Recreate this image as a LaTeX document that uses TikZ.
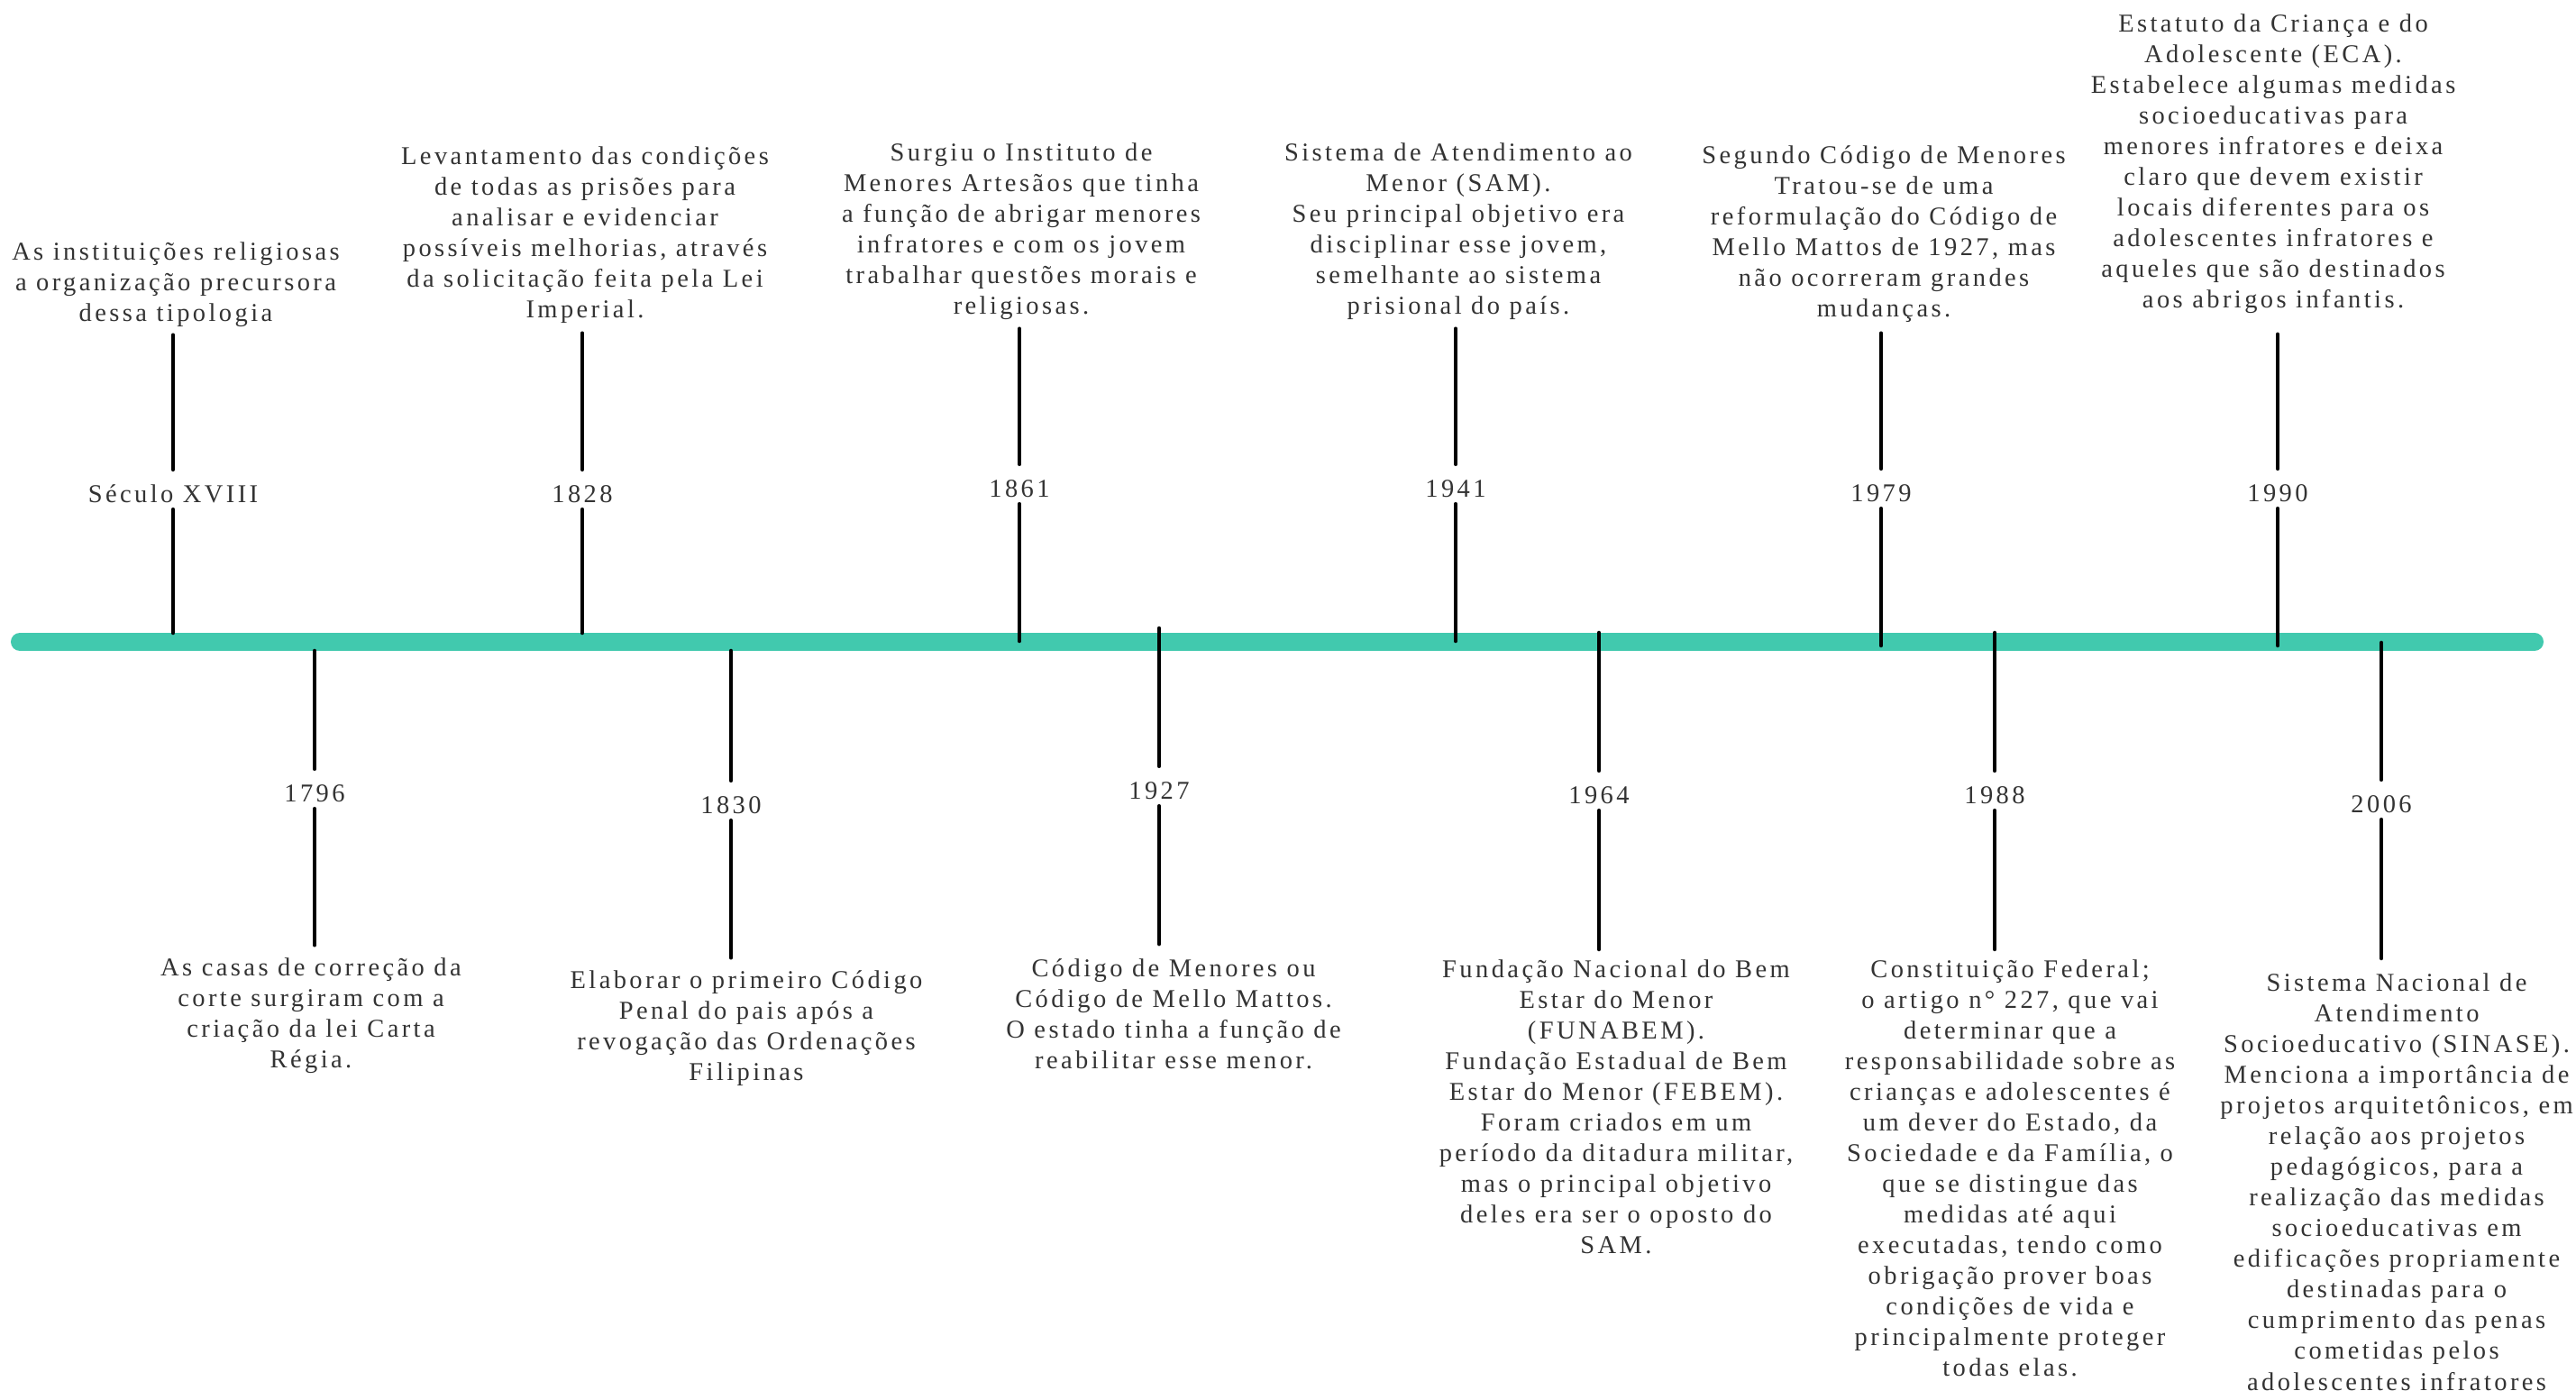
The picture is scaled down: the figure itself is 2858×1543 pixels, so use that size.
\documentclass[tikz,border=0pt]{standalone}
\usepackage{fontspec}
\setmainfont{Liberation Serif}[LetterSpace=12]
\usepackage{tikz}

\definecolor{timeline}{HTML}{41C9AE}
\definecolor{txtgray}{HTML}{333333}

\begin{document}
\begin{tikzpicture}[x=0.01cm, y=-0.01cm,
    desc/.style={align=center, text=txtgray, inner sep=0pt, font=\fontsize{8.1}{9.68}\selectfont},
    year/.style={desc, minimum height=0.43cm, text height=0.285cm, text depth=0pt},
    tick/.style={line width=1.3pt, line cap=round},
    bar/.style={draw=timeline, line width=0.2cm, line cap=round}]
      \useasboundingbox (0,0) rectangle (2858,1543);

      \coordinate (barL) at (22,712);
      \coordinate (barR) at (2812,712);
      \draw[bar] (barL) -- (barR);

      % above the line
      \node[desc] (d-s18) at (195,316) {As instituições religiosas\\a organização precursora\\dessa tipologia};
      \node[year] (y-s18) at (192,543) {Século XVIII};
      \coordinate (b-s18) at (192,702);
      \draw[tick] (b-s18) -- (y-s18.south);
      \draw[tick, shorten >=0.08cm] (y-s18.north) -- (y-s18.north |- d-s18.south);

      \node[desc] (d1828) at (649,261) {Levantamento das condições\\de todas as prisões para\\analisar e evidenciar\\possíveis melhorias, através\\da solicitação feita pela Lei\\Imperial.};
      \node[year] (y1828) at (646,543) {1828};
      \coordinate (b1828) at (646,702);
      \draw[tick] (b1828) -- (y1828.south);
      \draw[tick, shorten >=0.1cm] (y1828.north) -- (y1828.north |- d1828.south);

      \node[desc] (d1861) at (1133,257) {Surgiu o Instituto de\\Menores Artesãos que tinha\\a função de abrigar menores\\infratores e com os jovem\\trabalhar questões morais e\\religiosas.};
      \node[year] (y1861) at (1131,537) {1861};
      \coordinate (b1861) at (1131,711);
      \draw[tick] (b1861) -- (y1861.south);
      \draw[tick, shorten >=0.09cm] (y1861.north) -- (y1861.north |- d1861.south);

      \node[desc] (d1941) at (1618,257) {Sistema de Atendimento ao\\Menor (SAM).\\Seu principal objetivo era\\disciplinar esse jovem,\\semelhante ao sistema\\prisional do país.};
      \node[year] (y1941) at (1615,537) {1941};
      \coordinate (b1941) at (1615,711);
      \draw[tick] (b1941) -- (y1941.south);
      \draw[tick, shorten >=0.09cm] (y1941.north) -- (y1941.north |- d1941.south);

      \node[desc] (d1979) at (2090,260) {Segundo Código de Menores\\Tratou-se de uma\\reformulação do Código de\\Mello Mattos de 1927, mas\\não ocorreram grandes\\mudanças.};
      \node[year] (y1979) at (2087,542) {1979};
      \coordinate (b1979) at (2087,716);
      \draw[tick] (b1979) -- (y1979.south);
      \draw[tick, shorten >=0.11cm] (y1979.north) -- (y1979.north |- d1979.south);

      \node[desc] (d1990) at (2522,182) {Estatuto da Criança e do\\Adolescente (ECA).\\Estabelece algumas medidas\\socioeducativas para\\menores infratores e deixa\\claro que devem existir\\locais diferentes para os\\adolescentes infratores e\\aqueles que são destinados\\aos abrigos infantis.};
      \node[year] (y1990) at (2527,542) {1990};
      \coordinate (b1990) at (2527,716);
      \draw[tick] (b1990) -- (y1990.south);
      \draw[tick, shorten >=0.22cm] (y1990.north) -- (y1990.north |- d1990.south);

      % below the line
      \node[year] (y1796) at (349,875) {1796};
      \node[desc] (d1796) at (345,1127) {As casas de correção da\\corte surgiram com a\\criação da lei Carta\\Régia.};
      \coordinate (b1796) at (349,722);
      \draw[tick] (b1796) -- (y1796.north);
      \draw[tick, shorten >=0.14cm] (y1796.south) -- (y1796.south |- d1796.north);

      \node[year] (y1830) at (811,888) {1830};
      \node[desc] (d1830) at (828,1141) {Elaborar o primeiro Código\\Penal do pais após a\\revogação das Ordenações\\Filipinas};
      \coordinate (b1830) at (811,722);
      \draw[tick] (b1830) -- (y1830.north);
      \draw[tick, shorten >=0.14cm] (y1830.south) -- (y1830.south |- d1830.north);

      \node[year] (y1927) at (1286,872) {1927};
      \node[desc] (d1927) at (1302,1125) {Código de Menores ou\\Código de Mello Mattos.\\O estado tinha a função de\\reabilitar esse menor.};
      \coordinate (b1927) at (1286,697);
      \draw[tick] (b1927) -- (y1927.north);
      \draw[tick, shorten >=0.16cm] (y1927.south) -- (y1927.south |- d1927.north);

      \node[year] (y1964) at (1774,877) {1964};
      \node[desc] (d1964) at (1793,1228) {Fundação Nacional do Bem\\Estar do Menor\\(FUNABEM).\\Fundação Estadual de Bem\\Estar do Menor (FEBEM).\\Foram criados em um\\período da ditadura militar,\\mas o principal objetivo\\deles era ser o oposto do\\SAM.};
      \coordinate (b1964) at (1774,702);
      \draw[tick] (b1964) -- (y1964.north);
      \draw[tick, shorten >=0.11cm] (y1964.south) -- (y1964.south |- d1964.north);

      \node[year] (y1988) at (2213,877) {1988};
      \node[desc] (d1988) at (2230,1296) {Constituição Federal;\\o artigo n° 227, que vai\\determinar que a\\responsabilidade sobre as\\crianças e adolescentes é\\um dever do Estado, da\\Sociedade e da Família, o\\que se distingue das\\medidas até aqui\\executadas, tendo como\\obrigação prover boas\\condições de vida e\\principalmente proteger\\todas elas.};
      \coordinate (b1988) at (2213,702);
      \draw[tick] (b1988) -- (y1988.north);
      \draw[tick, shorten >=0.11cm] (y1988.south) -- (y1988.south |- d1988.north);

      \node[year] (y2006) at (2642,887) {2006};
      \node[desc] (d2006) at (2659,1311) {Sistema Nacional de\\Atendimento\\Socioeducativo (SINASE).\\Menciona a importância de\\projetos arquitetônicos, em\\relação aos projetos\\pedagógicos, para a\\realização das medidas\\socioeducativas em\\edificações propriamente\\destinadas para o\\cumprimento das penas\\cometidas pelos\\adolescentes infratores};
      \coordinate (b2006) at (2642,713);
      \draw[tick] (b2006) -- (y2006.north);
      \draw[tick, shorten >=0.16cm] (y2006.south) -- (y2006.south |- d2006.north);
\end{tikzpicture}
\end{document}
